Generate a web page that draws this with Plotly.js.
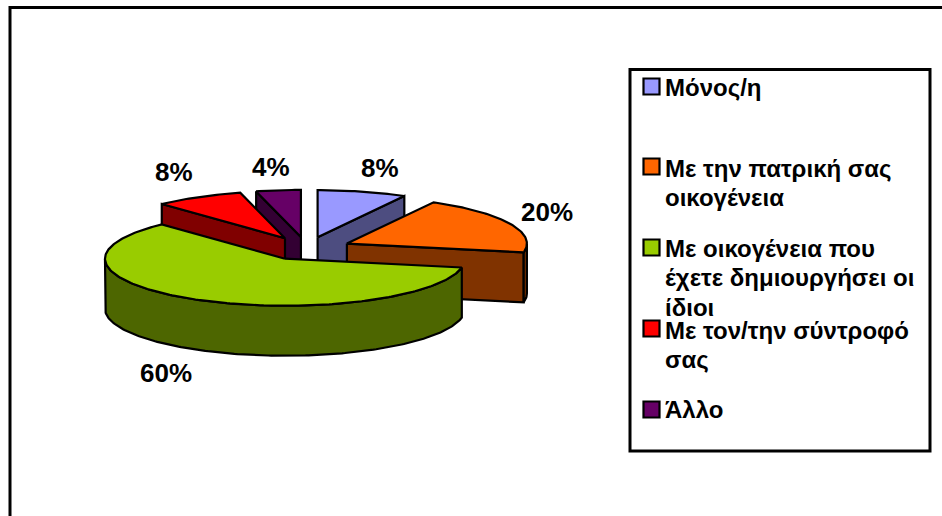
<!DOCTYPE html>
<html>
<head>
<meta charset="utf-8">
<script src="https://cdn.plot.ly/plotly-3.0.1.min.js"></script>
<style>html,body{margin:0;padding:0;background:#fff;overflow:hidden}</style>
</head>
<body>
<div id="chart" style="width:942px;height:516px"></div>
<script>
// Data
const categories = ['Μόνος/η', 'Με την πατρική σας<br>οικογένεια', 'Με οικογένεια που<br>έχετε δημιουργήσει οι<br>ίδιοι', 'Με τον/την σύντροφό<br>σας', 'Άλλο'];
const values = [8, 20, 60, 8, 4];
const topColors = ['#9999FF', '#FF6600', '#99CC00', '#FF0000', '#660066'];
const sideColors = ['#4D4D80', '#803300', '#4D6600', '#800000', '#330033'];
const drawOrder = [4, 3, 0, 1, 2];

// Pie projection
const FONT = 'Liberation Sans, Arial, sans-serif';
const cx = 306.5, cy = 248.5, rx = 180, ry = 47, depth = 50, explode = 0.248;
const labelPos = [[380, 168], [547, 212], [166, 373], [174, 172], [271, 167]];
const legendRows = [[86.5, 87], [166.5, 168], [247.5, 248], [328.5, 330], [409.5, 409]];
const legendLineGap = 29.5;

const total = values.reduce((s, v) => s + v, 0);
const rad = d => d * Math.PI / 180;
let acc = 0;
const slices = values.map((v, i) => {
  const a = acc; acc += v / total * 360; const b = acc; const m = (a + b) / 2;
  return {i, a, b, ax: cx + explode * rx * Math.sin(rad(m)), ay: cy - explode * ry * Math.cos(rad(m))};
});
const pt = (s, d, dz) => [s.ax + rx * Math.sin(rad(d)), s.ay - ry * Math.cos(rad(d)) + (dz || 0)];
function poly(points, fill) {
  const xs = points.map(p => p[0]).concat(points[0][0]);
  const ys = points.map(p => p[1]).concat(points[0][1]);
  return {type: 'scatter', mode: 'lines', x: xs, y: ys, fill: 'toself', fillcolor: fill,
    line: {color: '#000', width: 2.2, shape: 'linear'}, hoverinfo: 'skip', showlegend: false};
}
function arc(s, from, to, dz) {
  const out = [];
  const n = Math.max(2, Math.ceil(to - from));
  for (let k = 0; k <= n; k++) out.push(pt(s, from + (to - from) * k / n, dz));
  return out;
}
const traces = [];
drawOrder.forEach(i => {
  const s = slices[i];
  const apex = [s.ax, s.ay], apexLow = [s.ax, s.ay + depth];
  if (-Math.sin(rad(s.a)) > 1e-6) {
    traces.push(poly([apex, pt(s, s.a), pt(s, s.a, depth), apexLow], sideColors[i]));
  }
  if (Math.sin(rad(s.b)) > 1e-6) {
    traces.push(poly([apex, pt(s, s.b), pt(s, s.b, depth), apexLow], sideColors[i]));
  }
  const f = Math.max(s.a, 90), t = Math.min(s.b, 270);
  if (t > f) {
    traces.push(poly(arc(s, f, t, 0).concat(arc(s, f, t, depth).reverse()), sideColors[i]));
  }
  traces.push(poly([apex].concat(arc(s, s.a, s.b, 0)), topColors[i]));
});

const annotations = [];
values.forEach((v, i) => {
  annotations.push({x: labelPos[i][0], y: labelPos[i][1], xref: 'x', yref: 'y', text: '<b>' + Math.round(v / total * 100) + '%</b>',
    showarrow: false, xanchor: 'center', yanchor: 'middle', font: {family: FONT, size: 26, color: '#000'}});
});
const shapes = [
  {type: 'rect', xref: 'x', yref: 'y', x0: 10, y0: 7.5, x1: 960, y1: 540, line: {color: '#000', width: 3}, fillcolor: 'rgba(0,0,0,0)', layer: 'below'},
  {type: 'rect', xref: 'x', yref: 'y', x0: 630, y0: 69.5, x1: 930, y1: 451, line: {color: '#000', width: 3}, fillcolor: '#fff', layer: 'below'}
];
categories.forEach((c, i) => {
  const [sy, ty] = legendRows[i];
  shapes.push({type: 'rect', xref: 'x', yref: 'y', x0: 643.5, x1: 659.5, y0: sy - 8, y1: sy + 8, fillcolor: topColors[i], line: {color: '#000', width: 2.2}, layer: 'above'});
  c.split('<br>').forEach((line, k) => {
    annotations.push({x: 663, y: ty + k * legendLineGap, xref: 'x', yref: 'y', text: '<b>' + line + '</b>',
      showarrow: false, xanchor: 'left', yanchor: 'middle', align: 'left', font: {family: FONT, size: 24, color: '#000'}});
  });
});

Plotly.newPlot('chart', traces, {
  width: 942, height: 516, margin: {l: 0, r: 0, t: 0, b: 0, pad: 0},
  paper_bgcolor: '#fff', plot_bgcolor: '#fff', showlegend: false,
  xaxis: {range: [0, 942], visible: false, fixedrange: true},
  yaxis: {range: [516, 0], visible: false, fixedrange: true},
  shapes, annotations
}, {displayModeBar: false, staticPlot: true});
</script>
</body>
</html>
